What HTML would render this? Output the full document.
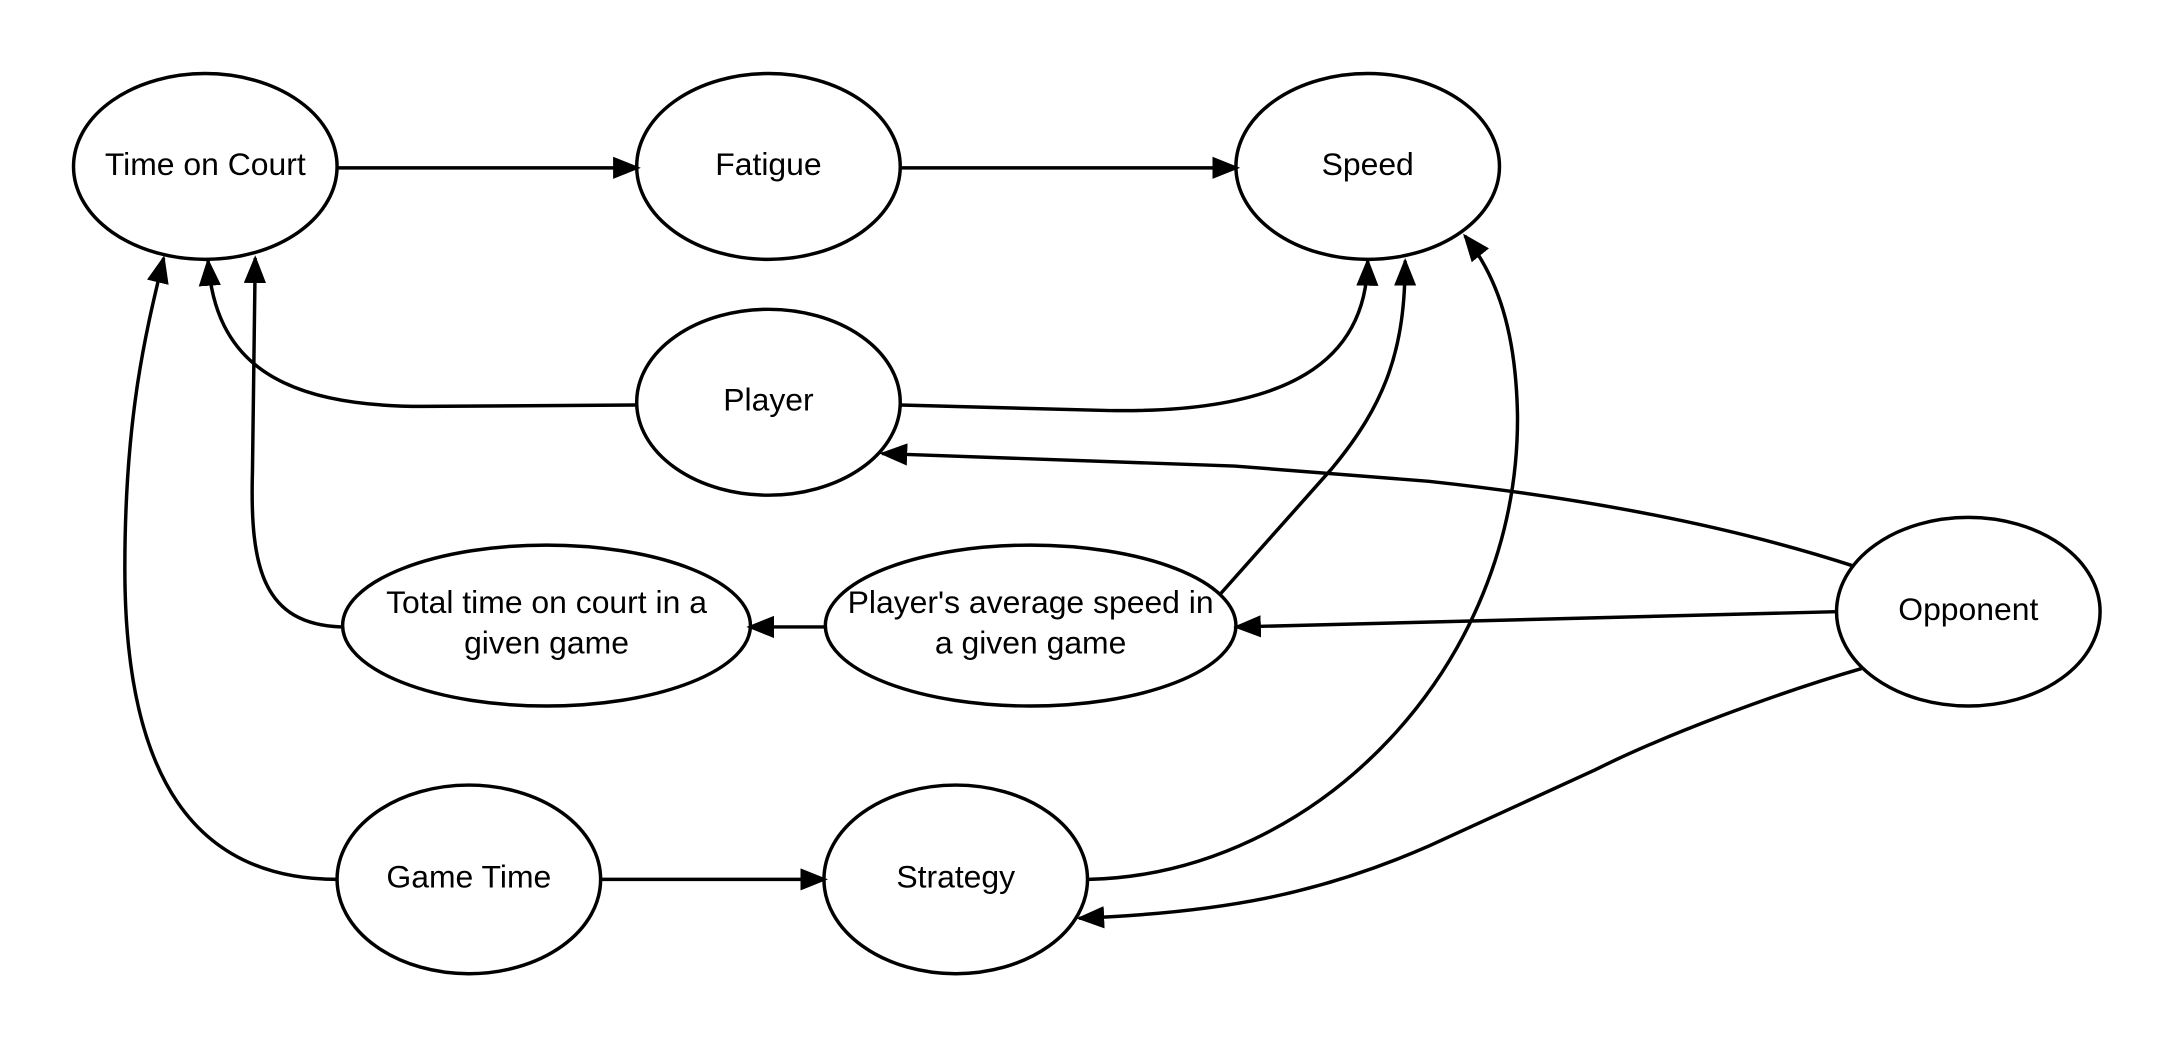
<!DOCTYPE html>
<html><head><meta charset="utf-8"><style>
html,body{margin:0;padding:0;background:#fff;width:2175px;height:1050px;overflow:hidden}
svg{display:block}
text{font-family:"Liberation Sans",sans-serif;font-size:23px;fill:#000;text-anchor:middle}
</style></head><body>
<svg width="2175" height="1050" viewBox="0 0 1568 757" preserveAspectRatio="none">
<defs><marker id="a" markerWidth="20" markerHeight="16" refX="18" refY="8" orient="auto" markerUnits="userSpaceOnUse"><path d="M0,0 L20,8 L0,16 Z" fill="#000"/></marker></defs>
<g fill="#fff" stroke="#000" stroke-width="2.5">
<ellipse cx="148" cy="120" rx="95" ry="67"/>
<ellipse cx="554" cy="120" rx="95" ry="67"/>
<ellipse cx="986" cy="120" rx="95" ry="67"/>
<ellipse cx="554" cy="290" rx="95" ry="67"/>
<ellipse cx="394" cy="451" rx="147" ry="58"/>
<ellipse cx="743" cy="451" rx="148" ry="58"/>
<ellipse cx="1419" cy="441" rx="95" ry="68"/>
<ellipse cx="338" cy="634" rx="95" ry="68"/>
<ellipse cx="689" cy="634" rx="95" ry="68"/>
</g>
<g fill="none" stroke="#000" stroke-width="2.5" marker-end="url(#a)">
<path d="M243,121 L460,121"/>
<path d="M649,121 L892,121"/>
<path d="M459,292 L305,293 C200,293 155,260 150,188"/>
<path d="M649,292 L800,296 C930,298 985,260 986,188"/>
<path d="M1336,408 C1250,380 1150,360 1030,347 L890,336 L636,327"/>
<path d="M1324,441 L891,452"/>
<path d="M880,428 L960,338 C1000,290 1013,250 1013,188"/>
<path d="M595,452 L540,452"/>
<path d="M246,452 C190,450 180,410 182,340 L184,186"/>
<path d="M243,634 C140,634 90,560 90,410 C90,300 105,240 118,186"/>
<path d="M432,634 L595,634"/>
<path d="M785,634 C950,630 1095,480 1094,300 C1093,240 1080,200 1056,170"/>
<path d="M1342,482 C1280,500 1200,530 1150,555 L1030,610 C950,645 880,658 778,662"/>
</g>
<text x="148" y="126">Time on Court</text>
<text x="554" y="126">Fatigue</text>
<text x="986" y="126">Speed</text>
<text x="554" y="296">Player</text>
<text x="394" y="442">Total time on court in a</text>
<text x="394" y="471">given game</text>
<text x="743" y="442">Player's average speed in</text>
<text x="743" y="471">a given game</text>
<text x="1419" y="447">Opponent</text>
<text x="338" y="640">Game Time</text>
<text x="689" y="640">Strategy</text>
</svg>
</body></html>
